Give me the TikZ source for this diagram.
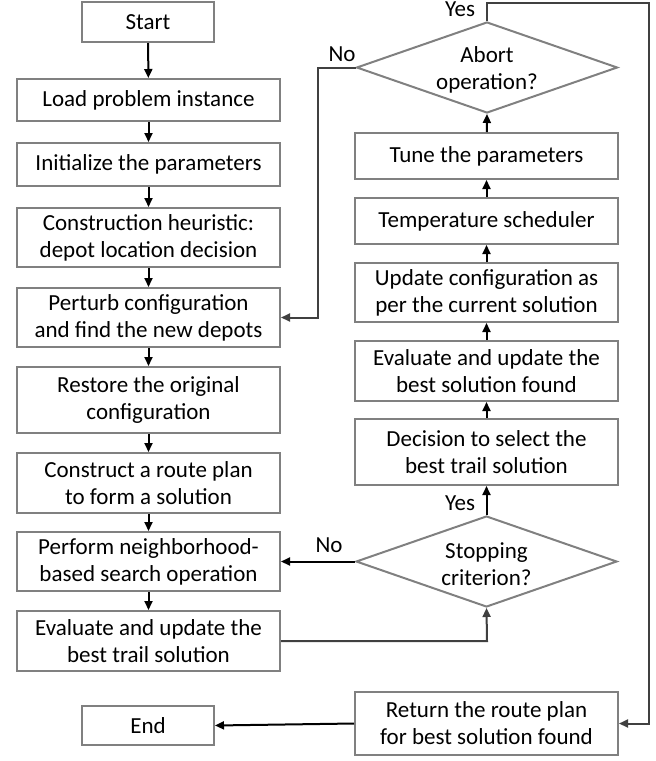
\documentclass[tikz,border=0pt]{standalone}
\usepackage{fontspec}
\setmainfont{Carlito}
\usetikzlibrary{shapes.geometric,arrows.meta}
\definecolor{boxgray}{RGB}{128,128,128}
\definecolor{loopgray}{RGB}{64,64,64}
\begin{document}
\begin{tikzpicture}[x=1pt,y=-1pt,
  every node/.style={font=\fontsize{23}{27}\selectfont, align=center},
  box/.style={draw=boxgray, line width=2pt, rectangle, inner sep=0pt, minimum width=263pt},
  smallbox/.style={draw=boxgray, line width=2pt, rectangle, inner sep=0pt, minimum width=132pt},
  dia/.style={draw=boxgray, line width=2pt, diamond, inner sep=0pt, minimum width=261pt, minimum height=91pt},
  arr/.style={line width=2pt, black, -{Triangle[length=9pt,width=8pt]}},
  looparr/.style={line width=2pt, loopgray, -{Triangle[length=9pt,width=8pt]}},
  lbl/.style={inner sep=0pt}]
\useasboundingbox (0,0) rectangle (656,761);
% left column
\node[smallbox, minimum height=40pt] (start) at (148,22) {Start};
\node[box, minimum height=42pt] (load) at (148.5,100) {Load problem instance};
\node[box, minimum height=43pt] (init) at (148.5,164.5) {Initialize the parameters};
\node[box, minimum height=59pt] (constr) at (148.5,237.5) {Construction heuristic:\\depot location decision};
\node[box, minimum height=59pt] (perturb) at (148.5,317.5) {Perturb configuration\\and find the new depots};
\node[box, minimum height=66pt] (restore) at (148.5,400) {Restore the original\\configuration};
\node[box, minimum height=60pt] (route) at (148.5,483) {Construct a route plan\\to form a solution};
\node[box, minimum height=59pt] (perform) at (148.5,561.5) {Perform neighborhood-\\based search operation};
\node[box, minimum height=60pt] (evaltrail) at (148.5,641) {Evaluate and update the\\best trail solution};
\node[smallbox, minimum height=39pt] (end) at (148,725.5) {End};
% right column
\node[dia] (abort) at (487,67.5) {};
\node[lbl] (aborttext) at (487,70) {Abort\\operation?};
\node[box, minimum height=46pt] (tune) at (486.5,156) {Tune the parameters};
\node[box, minimum height=46pt] (temp) at (486.5,221) {Temperature scheduler};
\node[box, minimum height=59pt] (update) at (486.5,292.5) {Update configuration as\\per the current solution};
\node[box, minimum height=60pt] (evalbest) at (486.5,371) {Evaluate and update the\\best solution found};
\node[box, minimum height=66pt] (decision) at (486.5,452) {Decision to select the\\best trail solution};
\node[dia] (stop) at (486.5,561.5) {};
\node[lbl] (stoptext) at (486.5,564) {Stopping\\criterion?};
\node[box, minimum height=63pt] (return) at (486.5,723.5) {Return the route plan\\for best solution found};
% coordinates
\coordinate (c1) at (487,641);
\coordinate (c2) at (318,67.5);
\coordinate (c3) at (318,317.5);
\coordinate (c4) at (487,3);
\coordinate (c5) at (649,3);
\coordinate (c6) at (649,723.5);
% left column arrows
\draw[arr] (start) -- (load);
\draw[arr] (load) -- (init);
\draw[arr] (init) -- (constr);
\draw[arr] (constr) -- (perturb);
\draw[arr] (perturb) -- (restore);
\draw[arr] (restore) -- (route);
\draw[arr] (route) -- (perform);
\draw[arr] (perform) -- (evaltrail);
% right column arrows
\draw[arr] (stop.north) -- (decision);
\draw[arr] (decision) -- (evalbest);
\draw[arr] (evalbest) -- (update);
\draw[arr] (update) -- (temp);
\draw[arr] (temp) -- (tune);
\draw[arr] (tune) -- (abort.south);
% loops
\draw[looparr] (evaltrail.east) -- (c1) -- (stop.south);
\draw[arr] (stop.west) -- (perform.east);
\draw[looparr] (abort.west) -- (c2) -- (c3) -- (perturb.east);
\draw[looparr] (abort.north) -- (c4) -- (c5) -- (c6) -- (return.east);
\draw[arr] (return.west) -- (end.east);
% labels
\node[lbl] (yes1) at (460,9) {Yes};
\node[lbl] (no1) at (342,54) {No};
\node[lbl] (yes2) at (460,503) {Yes};
\node[lbl] (no2) at (329,545) {No};
\end{tikzpicture}
\end{document}
